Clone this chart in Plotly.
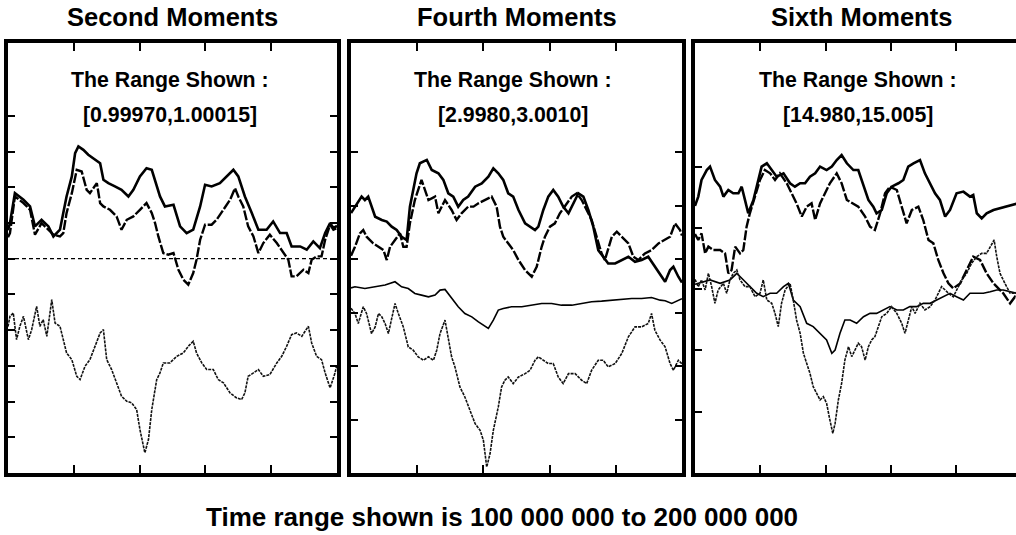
import plotly.graph_objects as go

# ---------------- data (time in millions of steps) ----------------
# Panel 1: second moments, values are deviations from 1 in units of 1e-5
p1_t_a = [100.0, 100.6, 102.1, 104.7, 106.7, 108.2, 110.2, 112.3, 113.8, 115.8, 116.8, 117.8, 119.4, 120.4, 121.4,
          122.9, 124.4, 126.4, 128.0, 129.0, 130.5, 132.5, 134.5, 136.6, 138.1, 140.1, 142.1, 143.7, 144.7, 146.2,
          147.7, 150.3, 152.3, 154.3, 156.3, 158.4, 159.9, 161.9, 164.4, 166.5, 168.5, 170.0, 172.0, 174.1, 176.1,
          178.6, 180.6, 182.7, 184.7, 186.2, 188.8, 190.8, 192.8, 194.8, 196.4, 197.9, 198.9, 200.0]
p1_v_a = [4.0, 4.99, 9.18, 8.25, 7.32, 4.52, 5.45, 4.52, 3.12, 4.06, 6.39, 8.72, 11.52, 14.78, 15.71,
          15.24, 14.55, 13.85, 13.38, 11.05, 10.58, 10.12, 9.65, 8.72, 9.65, 11.52, 12.68, 12.45, 11.05, 8.72,
          7.32, 7.55, 4.52, 3.59, 4.06, 7.32, 10.35, 10.12, 10.58, 11.52, 12.45, 11.52, 8.72, 6.39, 4.06,
          4.06, 5.22, 3.59, 3.59, 1.72, 1.72, 1.26, 2.42, 1.49, 3.59, 4.99, 4.29, 4.6]
p1_t_b = [100.0, 100.6, 102.1, 104.7, 106.7, 108.2, 110.2, 112.3, 113.8, 115.8, 116.8, 117.8, 119.4, 120.9, 122.4,
          123.9, 124.9, 127.0, 128.0, 129.0, 131.0, 133.0, 134.5, 136.1, 138.1, 140.1, 142.1, 143.7, 144.7, 145.7,
          147.2, 148.7, 150.3, 151.8, 153.3, 154.8, 156.3, 157.3, 158.4, 159.9, 161.9, 163.4, 165.5, 167.5, 169.0,
          170.0, 171.5, 173.0, 174.6, 176.1, 177.6, 179.6, 181.7, 183.7, 185.2, 186.2, 187.7, 189.8, 191.3, 192.3,
          193.8, 195.3, 196.4, 197.9, 198.9, 200.0]
p1_v_b = [3.0, 3.59, 8.72, 7.79, 6.85, 3.36, 4.99, 4.06, 3.36, 3.12, 3.59, 6.39, 9.18, 12.45, 12.21,
          9.65, 9.18, 10.58, 7.79, 7.32, 6.85, 5.92, 4.06, 5.45, 5.92, 6.85, 7.79, 6.39, 4.99, 3.12,
          0.79, 0.56, 0.79, -1.54, -2.94, -3.64, -2.00, -0.14, 2.66, 4.76, 4.76, 5.45, 6.85, 8.25, 9.88,
          8.72, 7.32, 4.52, 3.12, 0.79, 2.19, 3.36, 2.19, 0.79, -0.14, -2.47, -2.47, -1.54, -2.00, -0.14,
          0.33, 0.33, 2.66, 4.76, 4.06, 4.3]
p1_t_c = [100.0, 200.0]
p1_v_c = [0.0, 0.0]
p1_t_d = [100.0, 100.6, 101.6, 102.6, 103.6, 104.7, 106.2, 107.2, 108.7, 109.7, 110.7, 111.8, 113.3, 114.3, 115.8,
          116.8, 117.8, 119.4, 120.9, 121.9, 123.4, 124.9, 126.4, 128.0, 129.0, 130.0, 131.5, 133.0, 134.5, 136.1,
          137.6, 139.1, 140.1, 141.6, 142.7, 143.7, 145.2, 146.2, 147.2, 149.2, 151.3, 153.3, 154.8, 156.3, 157.3,
          158.9, 160.4, 162.4, 163.9, 165.5, 167.5, 169.5, 171.0, 172.0, 173.0, 174.6, 176.1, 177.6, 179.6, 181.7,
          183.2, 184.7, 186.2, 187.7, 189.3, 191.3, 192.3, 193.8, 195.3, 196.4, 197.9, 199.4, 200.0]
p1_v_d = [-9.5, -8.07, -7.60, -11.33, -9.46, -8.07, -11.33, -9.93, -6.67, -9.46, -8.53, -10.86, -5.73, -9.00, -9.46,
          -11.33, -13.19, -14.13, -16.46, -16.92, -15.06, -14.13, -12.26, -10.40, -9.93, -14.13, -15.52, -17.39, -19.25, -19.95,
          -20.19, -21.12, -23.92, -27.18, -25.31, -21.12, -16.92, -15.99, -14.59, -14.59, -13.66, -13.19, -12.26, -11.56, -13.19,
          -14.59, -15.52, -15.52, -16.92, -17.39, -18.79, -19.49, -19.72, -18.79, -16.46, -15.99, -15.52, -16.46, -16.22, -14.59,
          -13.66, -12.26, -10.63, -10.40, -10.86, -9.46, -11.80, -13.66, -14.13, -15.99, -18.09, -15.99, -14.8]

# Panel 2: fourth moments, deviations from 3 in units of 1e-4
p2_t_a = [100.0, 101.2, 103.2, 104.2, 105.2, 107.3, 109.3, 110.8, 112.3, 113.8, 115.3, 116.8, 117.8, 119.8, 120.8,
          122.9, 124.4, 126.4, 127.9, 129.4, 130.9, 132.4, 133.9, 135.4, 137.5, 139.5, 141.5, 143.0, 144.5, 146.0,
          147.5, 149.0, 150.6, 152.6, 154.1, 155.6, 156.6, 158.1, 159.6, 161.1, 162.6, 164.1, 165.7, 167.2, 168.7,
          170.2, 171.7, 173.2, 174.7, 176.2, 177.7, 179.8, 181.8, 183.8, 185.8, 187.8, 189.8, 191.8, 193.9, 194.9,
          196.4, 197.4, 198.9, 200.0]
p2_v_a = [4.3, 4.90, 5.84, 5.52, 5.84, 3.96, 3.65, 3.50, 3.03, 2.72, 2.09, 1.78, 4.90, 8.02, 8.96,
          9.27, 8.33, 8.02, 7.40, 6.15, 5.84, 4.90, 5.52, 5.84, 6.77, 7.08, 7.71, 8.49, 8.02, 7.40,
          6.15, 5.84, 4.59, 3.34, 3.03, 2.72, 3.03, 4.59, 5.84, 6.46, 5.84, 4.90, 4.28, 5.21, 6.15,
          5.84, 4.59, 3.03, 0.84, 0.22, -0.41, -0.41, -0.09, 0.22, -0.25, -0.09, 0.22, -0.72, -1.65, -2.12,
          -1.03, -0.72, -1.65, -2.2]
p2_t_b = [100.0, 101.2, 102.7, 103.7, 104.7, 106.7, 108.3, 109.8, 110.8, 111.8, 113.3, 114.8, 115.8, 116.8, 117.8,
          119.3, 121.3, 123.4, 125.4, 126.4, 128.4, 130.4, 131.9, 133.4, 135.4, 137.0, 138.5, 140.5, 142.5, 144.0,
          145.0, 146.0, 147.5, 149.0, 150.6, 152.6, 154.6, 156.1, 157.6, 158.6, 160.1, 161.6, 163.1, 165.2, 166.7,
          168.2, 169.7, 170.7, 172.7, 174.2, 175.7, 176.7, 178.8, 180.3, 181.8, 183.8, 185.3, 186.8, 188.8, 190.8,
          192.9, 194.9, 196.4, 197.9, 199.4, 200.0]
p2_v_b = [0.3, 1.15, 2.40, 2.72, 2.09, 1.47, 1.15, 0.84, -0.09, 1.15, 1.78, 2.40, 1.15, 1.15, 3.34,
          5.52, 7.40, 5.52, 5.84, 4.28, 5.52, 4.59, 3.65, 4.28, 4.90, 4.90, 5.21, 5.52, 5.84, 4.90,
          3.03, 2.09, 1.47, 0.84, -0.09, -1.03, -1.65, -0.72, 1.15, 2.09, 3.03, 3.34, 4.28, 5.21, 5.84,
          6.15, 5.52, 4.90, 3.65, 2.09, 0.53, -0.09, 2.09, 2.56, 2.09, 1.47, 0.22, -0.09, 0.53, 0.84,
          1.47, 1.78, 2.09, 3.34, 2.72, 2.2]
p2_t_c = [100.0, 101.2, 104.2, 107.3, 110.3, 113.3, 115.3, 117.3, 119.3, 121.3, 123.4, 125.4, 126.9, 128.4, 130.4,
          132.4, 134.4, 136.5, 138.5, 140.5, 141.5, 143.0, 144.5, 146.0, 148.5, 151.6, 154.6, 157.6, 160.6, 163.6,
          166.7, 169.7, 172.7, 175.7, 178.8, 181.8, 184.8, 187.8, 190.8, 193.4, 194.9, 196.9, 198.9, 200.0]
p2_v_c = [-2.7, -2.59, -2.75, -2.59, -2.43, -2.12, -2.59, -2.75, -3.21, -3.37, -3.53, -3.37, -2.90, -2.84, -3.68,
          -4.46, -5.09, -5.40, -5.87, -6.34, -6.49, -5.71, -4.77, -4.62, -4.46, -4.46, -4.31, -4.15, -4.15, -4.31,
          -4.31, -4.15, -3.99, -3.93, -3.84, -3.78, -3.68, -3.68, -3.59, -3.84, -3.90, -4.15, -3.84, -3.7]
p2_t_d = [100.0, 101.2, 102.2, 103.7, 104.7, 106.2, 107.3, 108.3, 109.3, 110.3, 111.3, 112.3, 113.3, 114.3, 115.8,
          117.3, 118.8, 120.3, 121.9, 123.4, 124.9, 125.9, 126.9, 128.4, 129.4, 130.4, 131.4, 132.9, 134.4, 136.0,
          137.5, 139.0, 140.0, 141.0, 142.0, 143.0, 144.5, 145.5, 146.5, 147.5, 149.0, 150.6, 152.6, 154.1, 155.6,
          156.6, 158.1, 159.6, 161.1, 162.6, 164.1, 165.7, 167.7, 169.7, 171.2, 172.7, 174.7, 176.2, 177.7, 179.8,
          181.8, 183.8, 185.8, 187.8, 189.8, 190.8, 191.8, 193.4, 194.9, 196.4, 197.4, 198.9, 200.0]
p2_v_d = [-4.6, -5.09, -6.02, -4.46, -5.09, -6.96, -6.34, -5.09, -5.40, -6.02, -6.96, -5.40, -4.15, -5.09, -6.34,
          -8.21, -8.52, -9.14, -9.46, -9.14, -9.46, -8.52, -6.96, -5.71, -7.58, -9.14, -10.08, -11.95, -12.89, -14.14,
          -15.39, -16.01, -16.95, -19.44, -18.20, -16.01, -13.83, -11.95, -11.33, -11.02, -11.64, -11.02, -10.71, -10.39, -9.46,
          -9.14, -9.46, -9.77, -9.77, -11.02, -11.64, -10.71, -10.71, -11.33, -11.64, -10.39, -9.46, -9.46, -10.08, -9.77,
          -8.83, -7.27, -6.34, -6.34, -6.02, -5.09, -6.65, -7.58, -8.21, -9.77, -10.39, -9.46, -9.8]

# Panel 3: sixth moments, deviations from 15 in units of 1e-3
p3_t_a = [100.0, 101.0, 102.0, 103.6, 104.6, 106.1, 107.7, 108.7, 110.2, 111.7, 113.3, 114.3, 115.3, 116.3, 117.9,
          119.4, 120.4, 122.0, 123.5, 125.0, 127.1, 129.1, 130.6, 132.2, 133.7, 135.2, 136.8, 138.3, 140.3, 141.9,
          143.4, 144.9, 146.5, 148.5, 150.0, 151.6, 153.1, 154.6, 155.6, 157.2, 158.7, 160.2, 162.3, 163.8, 165.3,
          166.9, 168.9, 170.4, 172.0, 173.5, 175.0, 176.6, 178.1, 180.1, 182.2, 184.2, 185.2, 186.3, 187.8, 189.3,
          191.4, 193.4, 195.4, 197.0, 198.5, 200.0]
p3_v_a = [1.8, 2.56, 3.92, 4.73, 5.01, 3.92, 3.37, 2.56, 3.10, 2.83, 2.83, 3.37, 2.29, 1.20, 2.29,
          3.92, 5.01, 5.28, 4.73, 4.19, 4.46, 3.65, 3.37, 3.65, 3.65, 4.19, 4.46, 5.01, 4.73, 5.01,
          5.55, 5.96, 5.28, 4.73, 4.73, 3.37, 2.29, 1.74, 1.20, 1.47, 2.83, 3.37, 3.65, 3.92, 5.01,
          5.28, 5.55, 4.46, 3.65, 2.83, 2.29, 0.93, 1.47, 2.83, 2.97, 2.56, 2.69, 1.20, 0.79, 1.20,
          1.47, 1.61, 1.74, 1.88, 2.01, 2.1]
p3_t_b = [100.0, 101.0, 102.0, 103.1, 104.1, 105.6, 107.7, 109.2, 110.2, 111.2, 112.3, 113.8, 114.8, 115.8, 116.8,
          118.4, 119.9, 121.4, 123.0, 124.5, 126.0, 128.1, 129.6, 131.1, 132.7, 134.2, 135.7, 136.8, 138.3, 139.8,
          141.3, 143.4, 144.9, 146.5, 148.5, 150.0, 152.1, 153.6, 155.1, 156.7, 158.2, 159.7, 161.8, 163.3, 164.8,
          166.4, 168.4, 169.9, 171.5, 173.0, 174.5, 176.1, 177.6, 179.1, 181.2, 183.2, 185.2, 187.3, 189.3, 191.4,
          194.4, 196.5, 198.0, 199.5]
p3_v_b = [-0.5, -0.98, -0.44, -2.07, -1.52, -1.80, -1.80, -2.07, -3.70, -3.43, -1.52, -2.07, -1.80, 0.11, 1.20,
          2.56, 3.92, 4.73, 4.46, 3.92, 4.46, 3.65, 2.83, 2.01, 0.93, 1.74, 2.01, 0.65, 2.01, 2.83,
          3.65, 4.46, 3.65, 2.29, 2.01, 1.74, 0.93, 0.11, -0.16, 1.20, 2.83, 3.37, 3.10, 1.74, 0.38,
          1.47, 1.74, 0.65, -0.98, -1.25, -2.61, -3.70, -4.52, -4.93, -4.52, -3.43, -2.34, -2.61, -3.70, -4.52,
          -5.33, -6.15, -5.61, -5.9]
p3_t_c = [100.0, 101.0, 104.6, 107.7, 110.7, 112.8, 114.8, 116.8, 118.9, 120.9, 123.0, 125.0, 127.1, 128.6, 130.1,
          132.2, 134.2, 136.2, 138.3, 140.3, 141.9, 142.9, 144.4, 145.9, 147.5, 149.5, 151.6, 153.6, 155.6, 157.7,
          159.7, 161.8, 163.8, 165.8, 167.9, 169.9, 172.0, 174.0, 176.1, 178.1, 180.1, 182.2, 184.2, 186.3, 188.3,
          190.4, 192.4, 194.4, 196.5, 198.5, 200.0]
p3_v_c = [-4.6, -4.52, -4.24, -4.52, -4.24, -3.70, -4.24, -4.79, -5.33, -5.61, -5.33, -5.33, -4.79, -4.52, -5.88,
          -6.42, -7.78, -8.05, -8.60, -9.14, -10.23, -9.96, -8.60, -7.51, -7.51, -7.78, -7.24, -6.97, -6.97, -6.69,
          -6.42, -6.69, -6.69, -6.42, -6.42, -6.15, -6.15, -5.88, -5.61, -5.33, -5.61, -5.88, -5.33, -5.33, -5.33,
          -5.20, -5.06, -5.06, -5.20, -5.33, -5.3]
p3_t_d = [100.0, 101.0, 102.0, 103.1, 104.1, 105.1, 106.1, 107.1, 108.7, 109.7, 110.7, 111.7, 112.8, 113.8, 115.3,
          116.8, 118.4, 119.9, 120.9, 122.0, 123.5, 124.5, 125.5, 126.5, 127.6, 129.1, 130.1, 131.1, 132.2, 133.2,
          134.2, 135.2, 136.2, 137.3, 138.3, 139.3, 140.3, 141.3, 142.2, 142.9, 143.9, 144.9, 145.9, 147.0, 148.0,
          149.0, 150.0, 151.0, 152.1, 153.1, 154.1, 155.1, 156.2, 157.2, 158.7, 160.2, 161.8, 163.3, 164.3, 165.3,
          166.4, 167.4, 168.9, 170.4, 172.0, 173.5, 174.5, 175.5, 176.6, 177.6, 179.1, 180.1, 181.7, 183.2, 184.7,
          186.3, 187.8, 189.3, 190.4, 191.6, 192.4, 193.4, 194.9, 196.5, 198.0, 199.5]
p3_v_d = [-4.2, -4.79, -4.24, -5.06, -3.70, -4.79, -6.15, -5.06, -4.52, -5.33, -4.24, -3.70, -3.43, -4.24, -4.79,
          -4.79, -5.61, -5.33, -4.24, -5.88, -6.15, -6.97, -8.05, -6.15, -5.06, -4.52, -5.88, -7.51, -8.60, -10.23,
          -11.05, -11.86, -12.95, -13.50, -14.04, -13.77, -14.31, -15.67, -16.76, -15.95, -14.04, -12.68, -10.78, -9.69, -10.50,
          -9.96, -9.41, -9.69, -10.78, -9.69, -9.14, -8.87, -8.05, -7.24, -6.97, -6.42, -6.97, -7.78, -8.60, -7.51,
          -6.42, -6.97, -6.15, -6.69, -6.42, -5.88, -5.33, -4.79, -5.06, -5.33, -5.61, -5.06, -4.24, -3.70, -2.88,
          -2.34, -2.07, -2.07, -1.52, -0.98, -2.34, -3.70, -4.52, -5.33, -5.33, -5.1]

panel_titles = ["Second Moments", "Fourth Moments", "Sixth Moments"]
range_labels = ["[0.99970,1.00015]", "[2.9980,3.0010]", "[14.980,15.005]"]
x_label = "Time range shown is 100 000 000 to 200 000 000"
exact_moments = [1.0, 3.0, 15.0]
scales = [1e-5, 1e-4, 1e-3]
y_ranges = [[0.99970, 1.000302], [2.99800, 3.00202], [14.980, 15.0151]]
y_ticks = [[0.99975, 0.9998, 0.99985, 0.9999, 0.99995, 1.0, 1.00005, 1.0001, 1.00015, 1.0002],
           [2.9985, 2.999, 2.9995, 3.0, 3.0005, 3.001],
           [14.985, 14.99, 14.995, 15.0, 15.005]]
x_ticks_M = [120, 140, 160, 180]
x_ranges_M = [[100, 200], [100, 200], [100, 198.3]]

# ---------------- figure ----------------
fig = go.Figure()
FONT = "Liberation Sans, Arial, Helvetica, sans-serif"

styles = {
    "a": dict(color="black", width=2.6),
    "b": dict(color="black", width=2.4, dash="10px,2px"),
    "c_flat": dict(color="black", width=1.3, dash="4px,3px"),
    "c": dict(color="black", width=1.6),
    "d": dict(color="#111111", width=1.6, dash="3px,1px"),
}

panels = [
    [(p1_t_a, p1_v_a, "a"), (p1_t_b, p1_v_b, "b"), (p1_t_c, p1_v_c, "c_flat"), (p1_t_d, p1_v_d, "d")],
    [(p2_t_a, p2_v_a, "a"), (p2_t_b, p2_v_b, "b"), (p2_t_c, p2_v_c, "c"), (p2_t_d, p2_v_d, "d")],
    [(p3_t_a, p3_v_a, "a"), (p3_t_b, p3_v_b, "b"), (p3_t_c, p3_v_c, "c"), (p3_t_d, p3_v_d, "d")],
]

for i, series in enumerate(panels):
    xa = "x" if i == 0 else f"x{i+1}"
    ya = "y" if i == 0 else f"y{i+1}"
    for t, v, key in series:
        fig.add_trace(go.Scatter(
            x=[tt * 1e6 for tt in t],
            y=[exact_moments[i] + vv * scales[i] for vv in v],
            mode="lines", line=styles[key], xaxis=xa, yaxis=ya,
            showlegend=False, hoverinfo="skip",
        ))

W, H = 1016, 535
ml, mr, mt, mb = 8, 0, 43, 62
pw = W - ml - mr
ph = H - mt - mb
doms = [[0.0, 329 / pw], [343 / pw, 674 / pw], [687 / pw, 1.0]]

def px_x(p):
    return (p - ml) / pw

def px_y(p):
    return (H - mb - p) / ph

layout = dict(
    width=W, height=H,
    margin=dict(l=ml, r=mr, t=mt, b=mb, pad=0),
    paper_bgcolor="white", plot_bgcolor="white",
    font=dict(family=FONT, color="black"),
    showlegend=False,
)

for i in range(3):
    xk = "xaxis" if i == 0 else f"xaxis{i+1}"
    yk = "yaxis" if i == 0 else f"yaxis{i+1}"
    ya = "y" if i == 0 else f"y{i+1}"
    xa = "x" if i == 0 else f"x{i+1}"
    layout[xk] = dict(
        domain=doms[i], anchor=ya,
        range=[r * 1e6 for r in x_ranges_M[i]],
        tickvals=[t * 1e6 for t in x_ticks_M], ticks="inside", ticklen=8, tickwidth=2,
        tickcolor="black", showticklabels=False,
        showline=True, linewidth=3.5, linecolor="black", mirror="ticks",
        showgrid=False, zeroline=False, fixedrange=True,
    )
    layout[yk] = dict(
        domain=[0, 1], anchor=xa,
        range=y_ranges[i],
        tickvals=y_ticks[i], ticks="inside", ticklen=7, tickwidth=2,
        tickcolor="black", showticklabels=False,
        showline=True, linewidth=3.5, linecolor="black",
        mirror="ticks" if i < 2 else False,
        showgrid=False, zeroline=False, fixedrange=True,
    )

# right-hand ticks of the cropped third panel
layout["yaxis4"] = dict(
    overlaying="y3", anchor="x3", side="right",
    range=y_ranges[2], tickvals=y_ticks[2], ticks="inside", ticklen=4, tickwidth=2,
    tickcolor="black", showticklabels=False, showline=False,
    showgrid=False, zeroline=False, fixedrange=True,
)

annotations = []
title_x = [172.5, 516.5, 861]
ann_x = [170, 513, 858]
for i in range(3):
    annotations.append(dict(
        text=f"<b>{panel_titles[i]}</b>", x=px_x(title_x[i]), y=px_y(0.5),
        xref="paper", yref="paper", xanchor="center", yanchor="top",
        showarrow=False, font=dict(family=FONT, size=25.5, color="black"),
    ))
    annotations.append(dict(
        text="<b>The Range Shown :</b>", x=px_x(ann_x[i]), y=px_y(80),
        xref="paper", yref="paper", xanchor="center", yanchor="middle",
        showarrow=False, font=dict(family=FONT, size=21.3, color="black"),
    ))
    annotations.append(dict(
        text=f"<b>{range_labels[i]}</b>", x=px_x(ann_x[i]), y=px_y(115),
        xref="paper", yref="paper", xanchor="center", yanchor="middle",
        showarrow=False, font=dict(family=FONT, size=21.3, color="black"),
    ))
annotations.append(dict(
    text=f"<b>{x_label}</b>", x=px_x(502), y=px_y(517),
    xref="paper", yref="paper", xanchor="center", yanchor="middle",
    showarrow=False, font=dict(family=FONT, size=26, color="black"),
))
layout["annotations"] = annotations

fig.update_layout(**layout)
fig.write_html(
    "out.html",
    config={"displayModeBar": False},
    post_script="document.body.style.margin='0';document.body.style.overflow='hidden';",
)
